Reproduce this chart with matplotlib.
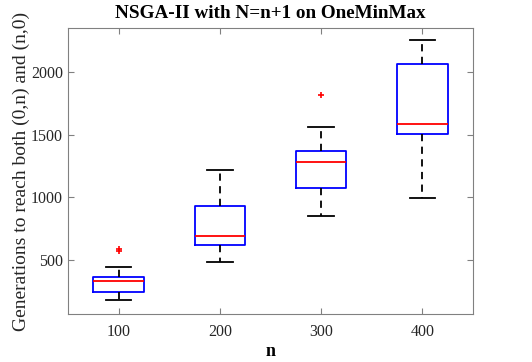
import matplotlib
matplotlib.use("Agg")
import matplotlib.pyplot as plt

plt.rcParams['font.family'] = ['Liberation Serif', 'DejaVu Serif']

n_vals = [100, 200, 300, 400]
whislo = [180, 486, 852, 994]
q1 = [246, 625, 1079, 1502]
med = [336, 693, 1286, 1587]
q3 = [367, 931, 1371, 2063]
whishi = [444, 1222, 1563, 2254]
fliers = [[575, 590], [], [1815], []]

stats = []
for i in range(len(n_vals)):
    stats.append(dict(whislo=whislo[i], q1=q1[i], med=med[i], q3=q3[i],
                      whishi=whishi[i], fliers=fliers[i]))

fig = plt.figure(figsize=(5.32, 3.62), dpi=100)
ax = fig.add_axes([68/532, 1-314/362, (473-68)/532, (314-28)/362])

ax.bxp(stats, positions=n_vals, widths=50,
       boxprops=dict(color='#0000ff', linewidth=1.3),
       medianprops=dict(color='#ff0000', linewidth=1.3),
       whiskerprops=dict(color='black', linewidth=1.3, linestyle=(0, (4, 3))),
       capprops=dict(color='black', linewidth=1.3),
       flierprops=dict(marker='+', markeredgecolor='#ff0000', markersize=4, markeredgewidth=1.2))

ax.set_xlim(50, 450)
ax.set_ylim(72, 2350)
ax.set_xticks(n_vals)
ax.set_xticklabels([str(v) for v in n_vals])
ax.set_yticks([500, 1000, 1500, 2000])
for s in ax.spines.values():
    s.set_color('#808080')
    s.set_linewidth(0.8)
ax.tick_params(direction='in', top=True, right=True, colors='#808080',
               labelcolor='#262626', labelsize=11.5, length=4)
ax.tick_params(axis='x', pad=7)

ax.set_title('NSGA-II with N=n+1 on OneMinMax', fontsize=13.8, fontweight='bold', pad=7)
ax.set_xlabel('n', fontsize=13, fontweight='bold', labelpad=2)
ax.set_ylabel('Generations to reach both (0,n) and (n,0)', fontsize=14, color='#262626',
              labelpad=1)

fig.savefig('out.png', dpi=100)
